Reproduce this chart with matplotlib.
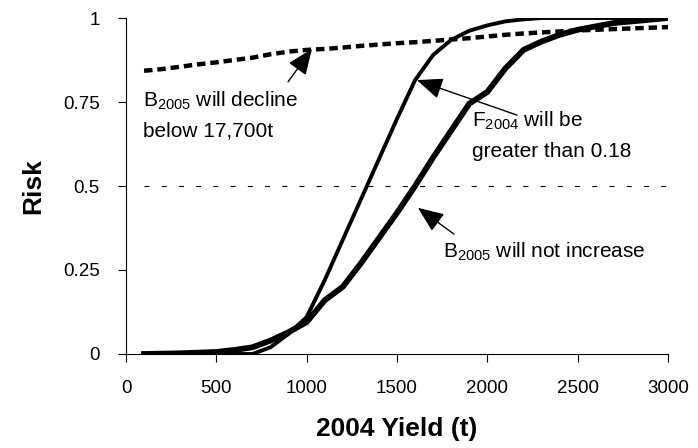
import matplotlib
matplotlib.use("Agg")
import matplotlib.pyplot as plt

plt.rcParams['font.family'] = ['Liberation Sans', 'DejaVu Sans']
plt.rcParams['mathtext.fontset'] = 'custom'
plt.rcParams['mathtext.rm'] = 'Liberation Sans'
plt.rcParams['mathtext.it'] = 'Liberation Sans:italic'
plt.rcParams['mathtext.bf'] = 'Liberation Sans:bold'

yield_t = [100, 200, 300, 400, 500, 600, 700, 800, 900, 1000,
           1100, 1200, 1300, 1400, 1500, 1600, 1700, 1800, 1900, 2000,
           2100, 2200, 2300, 2400, 2500, 2600, 2700, 2800, 2900, 3000]

risk_b_decline = [0.843, 0.848, 0.855, 0.862, 0.868, 0.875, 0.882, 0.892, 0.900, 0.905,
                  0.908, 0.912, 0.917, 0.921, 0.925, 0.928, 0.932, 0.936, 0.940, 0.945,
                  0.950, 0.954, 0.957, 0.960, 0.963, 0.965, 0.967, 0.969, 0.971, 0.973]

risk_f_greater = [0.0, 0.0, 0.0, 0.0, 0.0, 0.0, 0.0, 0.02, 0.06, 0.11,
                  0.22, 0.34, 0.46, 0.58, 0.70, 0.815, 0.89, 0.935, 0.962, 0.978,
                  0.99, 0.996, 1.0, 1.0, 1.0, 1.0, 1.0, 1.0, 1.0, 1.0]

risk_b_not_increase = [0.0, 0.001, 0.002, 0.004, 0.006, 0.012, 0.02, 0.04, 0.065, 0.095,
                       0.16, 0.20, 0.27, 0.345, 0.42, 0.50, 0.585, 0.665, 0.745, 0.78,
                       0.85, 0.905, 0.93, 0.95, 0.965, 0.975, 0.985, 0.99, 0.995, 1.0]

ref_level = [0.5] * len(yield_t)

x_ticks = [0, 500, 1000, 1500, 2000, 2500, 3000]
y_ticks = [0, 0.25, 0.5, 0.75, 1]
y_tick_labels = ['0', '0.25', '0.5', '0.75', '1']

fig = plt.figure(figsize=(6.98, 4.48), dpi=100)
ax = fig.add_axes([126/698, 1-354/448, (668-126)/698, (354-18)/448])

ax.plot(yield_t, ref_level, color='black', lw=0.8, dashes=(4.5, 11))
ax.plot(yield_t, risk_b_decline, color='black', lw=3.2, dashes=(1.9, 1.1), solid_capstyle='butt')
ax.plot(yield_t, risk_f_greater, color='black', lw=2.8, solid_joinstyle='miter')
ax.plot(yield_t, risk_b_not_increase, color='black', lw=4.2, solid_joinstyle='miter')

ax.set_xlim(0, 3000)
ax.set_ylim(0, 1)
ax.set_xticks(x_ticks)
ax.set_yticks(y_ticks)
ax.set_yticklabels(y_tick_labels)
for s in ['top', 'right']:
    ax.spines[s].set_visible(False)
for s in ['left', 'bottom']:
    ax.spines[s].set_linewidth(0.8)
ax.tick_params(axis='both', direction='out', length=6, width=0.8, labelsize=13.5)
ax.tick_params(axis='y', pad=13)
ax.tick_params(axis='x', pad=13)

ax.set_xlabel('2004 Yield (t)', fontsize=19, fontweight='bold', labelpad=14)
ax.set_ylabel('Risk', fontsize=19, fontweight='bold', labelpad=13)

arrow_style = dict(arrowstyle='-|>,head_length=0.8,head_width=0.33', color='black',
                   lw=1.0, mutation_scale=20, shrinkA=0, shrinkB=0)

ax.annotate('', xy=(1029, 0.908), xytext=(897, 0.81), arrowprops=arrow_style)
ax.annotate('', xy=(1610, 0.815), xytext=(2164, 0.711), arrowprops=arrow_style)
ax.annotate('', xy=(1616, 0.435), xytext=(1815, 0.357), arrowprops=arrow_style)

fs = 15
ax.text(94, 0.735, r'B$_{\mathrm{2005}}$ will decline', fontsize=fs, va='baseline')
ax.text(94, 0.646, 'below 17,700t', fontsize=fs, va='baseline')
ax.text(1915, 0.676, r'F$_{\mathrm{2004}}$ will be', fontsize=fs, va='baseline')
ax.text(1915, 0.586, 'greater than 0.18', fontsize=fs, va='baseline')
ax.text(1754, 0.286, r'B$_{\mathrm{2005}}$ will not increase', fontsize=fs, va='baseline')

fig.savefig('out.png', dpi=100)
